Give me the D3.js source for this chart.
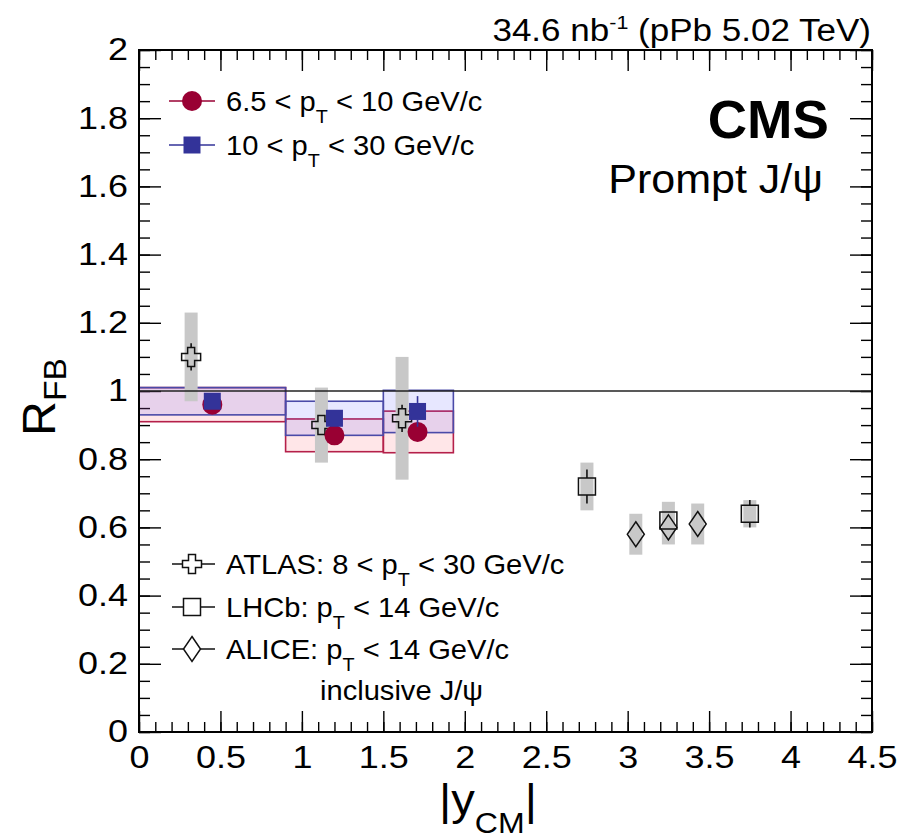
<!DOCTYPE html>
<html>
<head>
<meta charset="utf-8">
<script src="https://cdn.jsdelivr.net/npm/d3@7"></script>
<style>
  body { margin: 0; background: #fff; }
  text { font-family: "Liberation Sans", Arial, Helvetica, sans-serif; fill: #000; }
</style>
</head>
<body>
<svg id="chart" width="907" height="839"></svg>
<script>
// ---- CMS prompt J/psi R_FB, three |y_CM| bins ----
const binLow  = [0.0, 0.9, 1.5];
const binHigh = [0.9, 1.5, 1.93];
const cmsX    = [0.45, 1.2, 1.71];

// 6.5 < pT < 10 GeV/c
const lowPtY    = [0.96, 0.87, 0.88];
const lowPtStat = [0.01, 0.015, 0.02];
const lowPtSyst = [0.05, 0.048, 0.061];

// 10 < pT < 30 GeV/c
const highPtY    = [0.97, 0.92, 0.94];
const highPtStat = [0.01, 0.02, 0.045];
const highPtSyst = [0.04, 0.05, 0.062];

// ATLAS, 8 < pT < 30 GeV/c
const atlasX    = [0.32, 1.12, 1.615];
const atlasY    = [1.10, 0.90, 0.92];
const atlasStat = [0.04, 0.025, 0.04];
const atlasSyst = [0.13, 0.11, 0.18];

// LHCb, pT < 14 GeV/c
const lhcbX    = [2.75, 3.25, 3.75];
const lhcbY    = [0.72, 0.62, 0.64];
const lhcbStat = [0.05, 0.02, 0.04];
const lhcbSyst = [0.07, 0.055, 0.04];

// ALICE, pT < 14 GeV/c (inclusive J/psi)
const aliceX    = [3.05, 3.25, 3.43];
const aliceY    = [0.58, 0.60, 0.61];
const aliceStat = [0.02, 0.02, 0.02];
const aliceSyst = [0.06, 0.05, 0.06];

// axis ticks
const xTickValues = [0, 0.5, 1, 1.5, 2, 2.5, 3, 3.5, 4, 4.5];
const xTickLabels = ["0", "0.5", "1", "1.5", "2", "2.5", "3", "3.5", "4", "4.5"];
const yTickValues = [0, 0.2, 0.4, 0.6, 0.8, 1, 1.2, 1.4, 1.6, 1.8, 2];
const yTickLabels = ["0", "0.2", "0.4", "0.6", "0.8", "1", "1.2", "1.4", "1.6", "1.8", "2"];
const xMinorStep = 0.1;
const yMinorStep = 0.05;

// ---- styling ----
const RED = "#990033", BLUE = "#333399";
const RED_EDGE = "#b5204a", BLUE_EDGE = "#4a4aa8";
const RED_FILL = "rgba(255, 60, 80, 0.13)", BLUE_FILL = "rgba(70, 70, 255, 0.13)";
const GRAY = "#c8c8c8";
const BAND_HALF = 6.5;     // px half-width of gray systematic bands
const FONT_TICK = 31;

const svg = d3.select("#chart");
const frame = { left: 139, right: 872, top: 50, bottom: 732 };

const x = d3.scaleLinear().domain([0, 4.5]).range([frame.left, frame.right]);
const y = d3.scaleLinear().domain([0, 2]).range([frame.bottom, frame.top]);

// widen Helvetica-style glyphs horizontally about each text's own anchor point
function widen(sel, sx) {
  sel.each(function () {
    const t = d3.select(this);
    const x0 = +t.attr("x") || 0, y0 = +t.attr("y") || 0;
    t.attr("x", null).attr("y", null)
     .attr("transform", `translate(${x0},${y0}) scale(${sx},1)`);
  });
  return sel;
}

// ---- axes (ticks point inward, mirrored on top/right) ----
const xMinor = d3.range(0, 4.5 + 1e-9, xMinorStep).map(v => +v.toFixed(2));
const yMinor = d3.range(0, 2 + 1e-9, yMinorStep).map(v => +v.toFixed(2));

function styleAxis(g) {
  g.select(".domain").remove();
  g.selectAll("line").attr("stroke", "#000").attr("stroke-width", 1.4);
  g.selectAll("text").attr("font-size", FONT_TICK)
    .attr("font-family", '"Liberation Sans", Arial, sans-serif');
  widen(g.selectAll("text"), 1.16);
}

const axes = svg.append("g");
axes.append("g").attr("transform", `translate(0,${frame.bottom})`)
  .call(d3.axisBottom(x).tickValues(xMinor).tickSize(-10).tickFormat(""))
  .call(styleAxis);
axes.append("g").attr("transform", `translate(0,${frame.bottom})`)
  .call(d3.axisBottom(x).tickValues(xTickValues).tickSize(-21).tickPadding(14)
        .tickFormat((d, i) => xTickLabels[i]))
  .call(styleAxis);
axes.append("g").attr("transform", `translate(0,${frame.top})`)
  .call(d3.axisTop(x).tickValues(xMinor).tickSize(-10).tickFormat(""))
  .call(styleAxis);
axes.append("g").attr("transform", `translate(0,${frame.top})`)
  .call(d3.axisTop(x).tickValues(xTickValues).tickSize(-21).tickFormat(""))
  .call(styleAxis);
axes.append("g").attr("transform", `translate(${frame.left},0)`)
  .call(d3.axisLeft(y).tickValues(yMinor).tickSize(-11).tickFormat(""))
  .call(styleAxis);
axes.append("g").attr("transform", `translate(${frame.left},0)`)
  .call(d3.axisLeft(y).tickValues(yTickValues).tickSize(-22).tickPadding(11)
        .tickFormat((d, i) => yTickLabels[i]))
  .call(styleAxis);
axes.append("g").attr("transform", `translate(${frame.right},0)`)
  .call(d3.axisRight(y).tickValues(yMinor).tickSize(-11).tickFormat(""))
  .call(styleAxis);
axes.append("g").attr("transform", `translate(${frame.right},0)`)
  .call(d3.axisRight(y).tickValues(yTickValues).tickSize(-22).tickFormat(""))
  .call(styleAxis);

// ---- CMS systematic boxes ----
const plot = svg.append("g");
function systBoxes(vals, syst, fill, edge) {
  plot.append("g").selectAll("rect").data(vals).join("rect")
    .attr("x", (d, i) => x(binLow[i]))
    .attr("width", (d, i) => x(binHigh[i]) - x(binLow[i]))
    .attr("y", (d, i) => y(d + syst[i]))
    .attr("height", (d, i) => y(d - syst[i]) - y(d + syst[i]))
    .attr("fill", fill).attr("stroke", edge).attr("stroke-width", 1.6);
}
systBoxes(lowPtY, lowPtSyst, RED_FILL, RED_EDGE);
systBoxes(highPtY, highPtSyst, BLUE_FILL, BLUE_EDGE);

// ---- gray systematic bands for other experiments ----
function grayBands(xs, vals, syst) {
  plot.append("g").selectAll("rect").data(vals).join("rect")
    .attr("x", (d, i) => x(xs[i]) - BAND_HALF)
    .attr("width", BAND_HALF * 2)
    .attr("y", (d, i) => y(d + syst[i]))
    .attr("height", (d, i) => y(d - syst[i]) - y(d + syst[i]))
    .attr("fill", GRAY);
}
grayBands(atlasX, atlasY, atlasSyst);
grayBands(lhcbX, lhcbY, lhcbSyst);
grayBands(aliceX, aliceY, aliceSyst);

// reference line at R_FB = 1
plot.append("line")
  .attr("x1", x(0)).attr("x2", x(4.5)).attr("y1", y(1)).attr("y2", y(1))
  .attr("stroke", "#222").attr("stroke-width", 1.5);

// ---- marker shapes ----
const shapes = {
  circle: (r = 10) => `M${-r},0A${r},${r} 0 1,0 ${r},0A${r},${r} 0 1,0 ${-r},0Z`,
  square: (s = 17) => `M${-s/2},${-s/2}h${s}v${s}h${-s}Z`,
  cross: (w = 19, t = 7) => {
    const a = w / 2, b = t / 2;
    return `M${-b},${-a}H${b}V${-b}H${a}V${b}H${b}V${a}H${-b}V${b}H${-a}V${-b}H${-b}Z`;
  },
  diamond: (w = 17, h = 25) => `M0,${-h/2}L${w/2},0L0,${h/2}L${-w/2},0Z`
};
const halfHeight = { circle: 10, square: 8.5, cross: 9.5, diamond: 12.5 };

function series(xs, vals, stat, shape, color, fill, sw) {
  const g = plot.append("g");
  const hh = halfHeight[shape];
  // stat error bars, drawn outside the marker
  g.selectAll("line.up").data(vals).join("line")
    .attr("x1", (d, i) => x(xs[i])).attr("x2", (d, i) => x(xs[i]))
    .attr("y1", (d, i) => y(d + stat[i]))
    .attr("y2", (d, i) => Math.max(y(d + stat[i]), y(d) - hh))
    .attr("stroke", color).attr("stroke-width", 1.6);
  g.selectAll("line.dn").data(vals).join("line")
    .attr("x1", (d, i) => x(xs[i])).attr("x2", (d, i) => x(xs[i]))
    .attr("y1", (d, i) => Math.min(y(d - stat[i]), y(d) + hh))
    .attr("y2", (d, i) => y(d - stat[i]))
    .attr("stroke", color).attr("stroke-width", 1.6);
  g.selectAll("path").data(vals).join("path")
    .attr("transform", (d, i) => `translate(${x(xs[i])},${y(d)})`)
    .attr("d", shapes[shape]())
    .attr("fill", fill).attr("stroke", color).attr("stroke-width", sw);
}
series(atlasX, atlasY, atlasStat, "cross", "#111", "none", 1.5);
series(lhcbX, lhcbY, lhcbStat, "square", "#111", "none", 1.5);
series(aliceX, aliceY, aliceStat, "diamond", "#111", "none", 1.5);
series(cmsX, lowPtY, lowPtStat, "circle", RED, RED, 0);
series(cmsX, highPtY, highPtStat, "square", BLUE, BLUE, 0);

// ---- frame ----
svg.append("rect")
  .attr("x", frame.left).attr("y", frame.top)
  .attr("width", frame.right - frame.left).attr("height", frame.bottom - frame.top)
  .attr("fill", "none").attr("stroke", "#000").attr("stroke-width", 2);

// ---- text helpers ----
function rich(parent, px, py, parts, size, anchor = "start", sx = 1) {
  const t = parent.append("text").attr("x", px).attr("y", py)
    .attr("font-size", size).attr("text-anchor", anchor);
  let shift = 0;
  parts.forEach(p => {
    const ts = t.append("tspan").text(p.t).style("white-space", "pre");
    const target = p.dy || 0;
    if (target !== shift) { ts.attr("dy", target - shift); shift = target; }
    if (p.size) ts.attr("font-size", p.size);
  });
  if (sx !== 1) widen(t, sx);
  return t;
}

// luminosity label
rich(svg, 871, 41, [
  { t: "34.6 nb" }, { t: "-1", dy: -12, size: 19 }, { t: " (pPb 5.02 TeV)", dy: 0 }
], 31, "end", 1.13);

widen(svg.append("text").attr("x", 829).attr("y", 138).attr("text-anchor", "end")
  .attr("font-size", 53).attr("font-weight", "bold").text("CMS"), 1.03);
widen(svg.append("text").attr("x", 823).attr("y", 193).attr("text-anchor", "end")
  .attr("font-size", 41).text("Prompt J/\u03C8"), 1.05);

// axis titles
rich(svg, 488, 815, [
  { t: "|y" }, { t: "CM", dy: 18, size: 30 }, { t: "|", dy: 0 }
], 44, "middle", 1.07);
const yt = svg.append("g").attr("transform", "translate(55,397) rotate(-90)");
rich(yt, 0, 0, [{ t: "R" }, { t: "FB", dy: 11, size: 32 }], 46, "middle", 1.05);

// ---- legends ----
const LEG_X0 = 169, LEG_X1 = 215, LEG_MX = 192, LEG_TX = 226, LEG_FONT = 28, LEG_SX = 1.04;
const sub = t => ({ t, dy: 12, size: 19 });

function legendRow(cy, shape, color, fill, parts) {
  const g = svg.append("g");
  g.append("line").attr("x1", LEG_X0).attr("x2", LEG_X1).attr("y1", cy).attr("y2", cy)
    .attr("stroke", color).attr("stroke-width", 1.5);
  g.append("path").attr("transform", `translate(${LEG_MX},${cy})`)
    .attr("d", shapes[shape]())
    .attr("fill", fill).attr("stroke", "none");
  rich(g, LEG_TX, cy + 10, parts, LEG_FONT, "start", LEG_SX);
}
legendRow(101, "circle", RED, RED, [{ t: "6.5 < p" }, sub("T"), { t: " < 10 GeV/c", dy: 0 }]);
legendRow(145, "square", BLUE, BLUE, [{ t: "10 < p" }, sub("T"), { t: " < 30 GeV/c", dy: 0 }]);

// white fill keeps the legend line from crossing open markers
function legendOpen(cy, shape, parts) {
  const g = svg.append("g");
  g.append("line").attr("x1", LEG_X0 + 3).attr("x2", LEG_X1).attr("y1", cy).attr("y2", cy)
    .attr("stroke", "#111").attr("stroke-width", 1.5);
  g.append("path").attr("transform", `translate(${LEG_MX},${cy})`)
    .attr("d", shapes[shape]())
    .attr("fill", "#fff").attr("stroke", "#111").attr("stroke-width", 1.5);
  rich(g, LEG_TX, cy + 10, parts, LEG_FONT, "start", LEG_SX);
}
legendOpen(564, "cross", [{ t: "ATLAS: 8 < p" }, sub("T"), { t: " < 30 GeV/c", dy: 0 }]);
legendOpen(607, "square", [{ t: "LHCb: p" }, sub("T"), { t: " < 14 GeV/c", dy: 0 }]);
legendOpen(649, "diamond", [{ t: "ALICE: p" }, sub("T"), { t: " < 14 GeV/c", dy: 0 }]);
widen(svg.append("text").attr("x", 320).attr("y", 700).attr("font-size", LEG_FONT)
  .text("inclusive J/\u03C8"), LEG_SX);
</script>
</body>
</html>
